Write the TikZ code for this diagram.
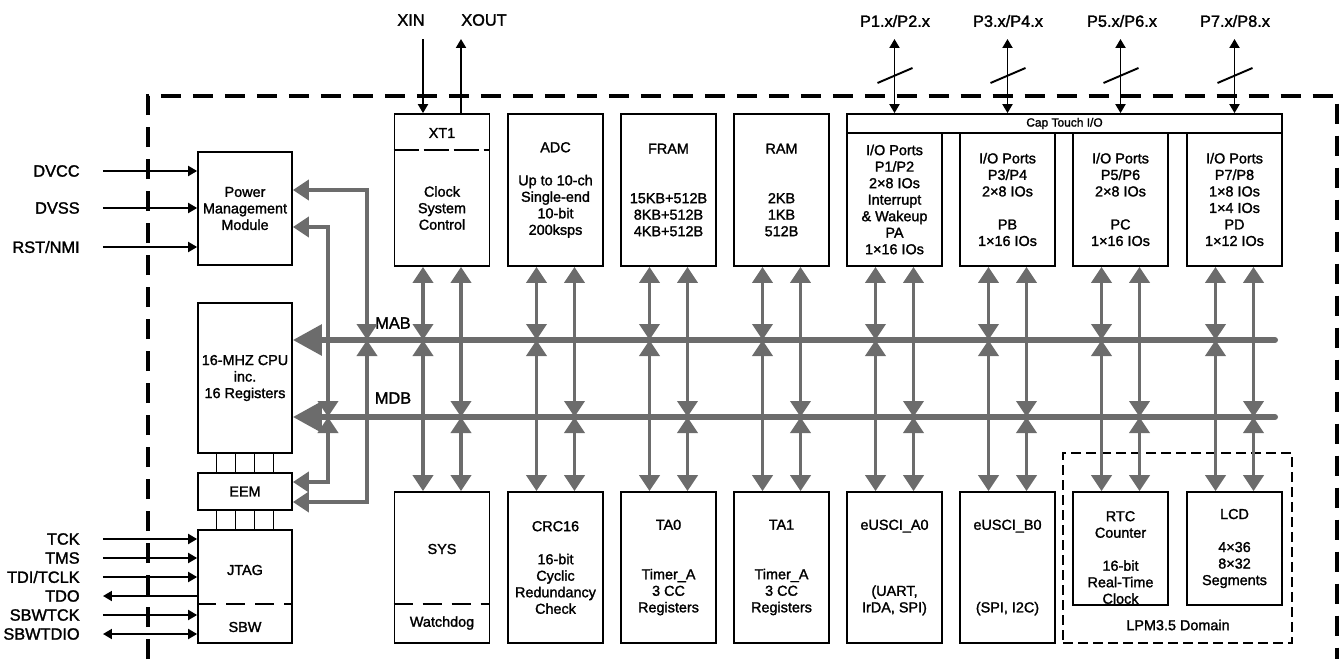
\documentclass[tikz,border=0pt]{standalone}
\usepackage{fontspec}
\setmainfont{Liberation Sans}[BoldFont={Liberation Sans}, BoldFeatures={FakeBold=1.6}]
\usetikzlibrary{arrows.meta}

\definecolor{busgray}{RGB}{108,108,108}
\newcommand{\blkfont}{\fontsize{8.2}{9.4}\selectfont\bfseries}
\newcommand{\lblfont}{\fontsize{9.3}{11}\selectfont\bfseries}
\newcommand{\capfont}{\fontsize{6.8}{8}\selectfont\bfseries}

\tikzset{
    box/.style={draw, line width=1pt, inner sep=0pt, align=center, font=\blkfont, minimum width=1.9cm},
    txt/.style={inner sep=0pt, align=center, font=\blkfont},
    lbl/.style={inner sep=0pt, font=\lblfont},
    sig/.style={draw=black, line width=1.1pt},
    conn/.style={draw=busgray, line width=2.2pt,
        arrows={Triangle[length=0.32cm,width=0.4cm]-Triangle[length=0.32cm,width=0.4cm]}},
    bus/.style={draw=busgray, line width=3.4pt, line cap=round,
        arrows={Triangle[length=0.58cm,width=0.6cm]-}},
    sepline/.style={line width=1pt, dash pattern=on 0.38cm off 0.2cm},
    chipedge/.style={line width=2.3pt, dash pattern=on 0.4cm off 0.24cm},
    lpm/.style={draw, line width=0.8pt, dash pattern=on 0.2cm off 0.1cm, inner sep=0pt}
}

\begin{document}
\begin{tikzpicture}[x=0.02cm, y=-0.02cm, >={Triangle[length=0.18cm,width=0.2cm]}]
    \useasboundingbox (0,0) rectangle (1341,659);

    % Chip outline
    \draw[chipedge] (148,659) -- (148,96) -- (1337,96) -- (1337,659);

    % Left column
    \node[box, minimum width=1.88cm, minimum height=2.26cm] (pmm) at (245,208.5) {Power\\Management\\Module};
    \node[box, minimum width=1.88cm, minimum height=3.0cm] (cpu) at (245,378) {16-MHZ CPU\\inc.\\16 Registers};
    \node[box, minimum width=1.88cm, minimum height=0.74cm] (eem) at (245,491.5) {EEM};
    \node[box, minimum width=1.88cm, minimum height=2.26cm] (jtag) at (245,586.5) {};
    \node[txt] (jtaglbl) at (245,570) {JTAG};
    \draw[sepline] ([yshift=-1.5cm]jtag.north west) -- ([yshift=-1.5cm]jtag.north east);
    \node[txt] (sbwlbl) at (245,627) {SBW};

    % CPU / EEM / JTAG links
    \foreach \dx in {-28.5,-9.5,9.5,28.5} {
        \draw[line width=1pt] (cpu.south) ++(\dx,0) coordinate (c) -- (c |- eem.north);
        \draw[line width=1pt] (eem.south) ++(\dx,0) coordinate (c) -- (c |- jtag.north);
    }

    % Upper row
    \node[box, minimum height=3.04cm] (xt) at (442,190) {};
    \node[txt] (xt1) at (442,133) {XT1};
    \draw[line width=1pt, dash pattern=on 0.5cm off 0.1cm] ([yshift=-0.74cm]xt.north west) -- ([yshift=-0.74cm]xt.north east);
    \node[txt] (csc) at (442,208) {Clock\\System\\Control};
    \node[box, minimum height=3.04cm] (adc) at (555.5,190) {ADC\\[9.4pt]Up to 10-ch\\Single-end\\10-bit\\200ksps};
    \node[box, minimum height=3.04cm] (fram) at (668.5,190) {FRAM\\[18.8pt]15KB+512B\\8KB+512B\\4KB+512B};
    \node[box, minimum height=3.04cm] (ram) at (781.5,190) {RAM\\[18.8pt]2KB\\1KB\\512B};
    \node[box, minimum width=8.7cm, minimum height=0.38cm, font=\capfont] (cap) at (1064.5,123.5) {Cap Touch I/O};
    \node[box, minimum height=2.66cm] (pa) at (894.5,199.5) {I/O Ports\\P1/P2\\2×8 IOs\\Interrupt\\\& Wakeup\\PA\\1×16 IOs};
    \node[box, minimum height=2.66cm] (pb) at (1007.5,199.5) {I/O Ports\\P3/P4\\2×8 IOs\\[9.4pt]PB\\1×16 IOs};
    \node[box, minimum height=2.66cm] (pc) at (1120.5,199.5) {I/O Ports\\P5/P6\\2×8 IOs\\[9.4pt]PC\\1×16 IOs};
    \node[box, minimum height=2.66cm] (pd) at (1234.5,199.5) {I/O Ports\\P7/P8\\1×8 IOs\\1×4 IOs\\PD\\1×12 IOs};

    % Lower row
    \node[lpm, minimum width=4.58cm, minimum height=3.8cm] (lpm) at (1177.5,548) {};
    \node[txt] (lpmlbl) at (1178,625) {LPM3.5 Domain};
    \node[box, minimum height=3.02cm] (sys) at (442,567.5) {};
    \node[txt] (syslbl) at (442,549) {SYS};
    \draw[sepline] ([yshift=-2.26cm]sys.north west) -- ([yshift=-2.26cm]sys.north east);
    \node[txt] (wdt) at (442,623) {Watchdog};
    \node[box, minimum height=3.02cm] (crc) at (555.5,567.5) {CRC16\\[9.4pt]16-bit\\Cyclic\\Redundancy\\Check};
    \node[box, minimum height=3.02cm] (tao) at (668.5,567.5) {TA0\\[18.8pt]Timer\_A\\3 CC\\Registers};
    \node[box, minimum height=3.02cm] (taa) at (781.5,567.5) {TA1\\[18.8pt]Timer\_A\\3 CC\\Registers};
    \node[box, minimum height=3.02cm] (uca) at (894.5,567.5) {eUSCI\_A0\\[28.2pt](UART,\\IrDA, SPI)};
    \node[box, minimum height=3.02cm] (ucb) at (1007.5,567.5) {eUSCI\_B0\\[37.6pt](SPI, I2C)};
    \node[box, minimum height=2.26cm] (rtc) at (1120.5,548.5) {};
    \node[txt] (rtclbl) at (1120.5,557.5) {RTC\\Counter\\[9.4pt]16-bit\\Real-Time\\Clock};
    \node[box, minimum height=2.26cm] (lcd) at (1234.5,548.5) {LCD\\[9.4pt]4×36\\8×32\\Segments};

    % Buses
    \coordinate (mabR) at (1275,340);
    \coordinate (mdbR) at (1275,417);
    \draw[bus] (cpu.east |- mabR) -- (mabR);
    \draw[bus] (cpu.east |- mdbR) -- (mdbR);
    \node[lbl] (mablbl) at (393,323) {MAB};
    \node[lbl] (mdblbl) at (393,398) {MDB};

    % Bus taps
    \foreach \b in {xt,adc,fram,ram,pa,pb,pc,pd} {
        \path (\b.south) ++(-19,0) coordinate (l) ++(38,0) coordinate (r);
        \draw[conn] (l) -- (l |- mabR);
        \draw[conn] (r) -- (r |- mdbR);
    }
    \foreach \b in {sys,crc,tao,taa,uca,ucb,rtc,lcd} {
        \path (\b.north) ++(-19,0) coordinate (l) ++(38,0) coordinate (r);
        \draw[conn] (l |- mabR) -- (l);
        \draw[conn] (r |- mdbR) -- (r);
    }

    % Power management and EEM taps
    \coordinate (pA) at (367,190);
    \coordinate (pB) at (328,227);
    \coordinate (eA) at (367,502);
    \coordinate (eB) at (328,482);
    \draw[conn] (pmm.east |- pA) -| (pA |- mabR);
    \draw[conn] (pmm.east |- pB) -| (pB |- mdbR);
    \draw[conn] (pA |- mabR) |- (eem.east |- eA);
    \draw[conn] (pB |- mdbR) |- (eem.east |- eB);

    % Power and reset pins
    \node[lbl, anchor=east] (dvcc) at (80,171) {DVCC};
    \node[lbl, anchor=east] (dvss) at (80,208) {DVSS};
    \node[lbl, anchor=east] (rst) at (80,247) {RST/NMI};
    \draw[sig, ->] ([xshift=0.46cm]dvcc.east) -- (pmm.west |- dvcc.east);
    \draw[sig, ->] ([xshift=0.46cm]dvss.east) -- (pmm.west |- dvss.east);
    \draw[sig, ->] ([xshift=0.46cm]rst.east) -- (pmm.west |- rst.east);

    % Debug pins
    \node[lbl, anchor=east] (tck) at (80,539) {TCK};
    \node[lbl, anchor=east] (tms) at (80,558) {TMS};
    \node[lbl, anchor=east] (tdi) at (80,577) {TDI/TCLK};
    \node[lbl, anchor=east] (tdo) at (80,596) {TDO};
    \node[lbl, anchor=east] (sbwtck) at (80,615) {SBWTCK};
    \node[lbl, anchor=east] (sbwtdio) at (80,634) {SBWTDIO};
    \draw[sig, ->] ([xshift=0.46cm]tck.east) -- (jtag.west |- tck.east);
    \draw[sig, ->] ([xshift=0.46cm]tms.east) -- (jtag.west |- tms.east);
    \draw[sig, ->] ([xshift=0.46cm]tdi.east) -- (jtag.west |- tdi.east);
    \draw[sig, <-] ([xshift=0.46cm]tdo.east) -- (jtag.west |- tdo.east);
    \draw[sig, ->] ([xshift=0.46cm]sbwtck.east) -- (jtag.west |- sbwtck.east);
    \draw[sig, <->] ([xshift=0.46cm]sbwtdio.east) -- (jtag.west |- sbwtdio.east);

    % Crystal pins
    \coordinate (toprow) at (0,39);
    \node[lbl] (xin) at (411,20) {XIN};
    \node[lbl] (xout) at (484,20) {XOUT};
    \path (xt.north) ++(-19,0) coordinate (xinp) ++(38,0) coordinate (xoutp);
    \draw[sig, ->] (xinp |- toprow) -- (xinp);
    \draw[sig, ->] (xoutp) -- (xoutp |- toprow);

    % Port pins
    \node[lbl] (p12) at (895,21) {P1.x/P2.x};
    \node[lbl] (p34) at (1008,21) {P3.x/P4.x};
    \node[lbl] (p56) at (1122,21) {P5.x/P6.x};
    \node[lbl] (p78) at (1235,21) {P7.x/P8.x};
    \foreach \b in {pa,pb,pc,pd} {
        \draw[sig, <->] (\b |- toprow) -- (cap.north -| \b);
        \draw[sig] (\b |- toprow) ++(-17,44) -- ++(35,-15);
    }
\end{tikzpicture}
\end{document}
